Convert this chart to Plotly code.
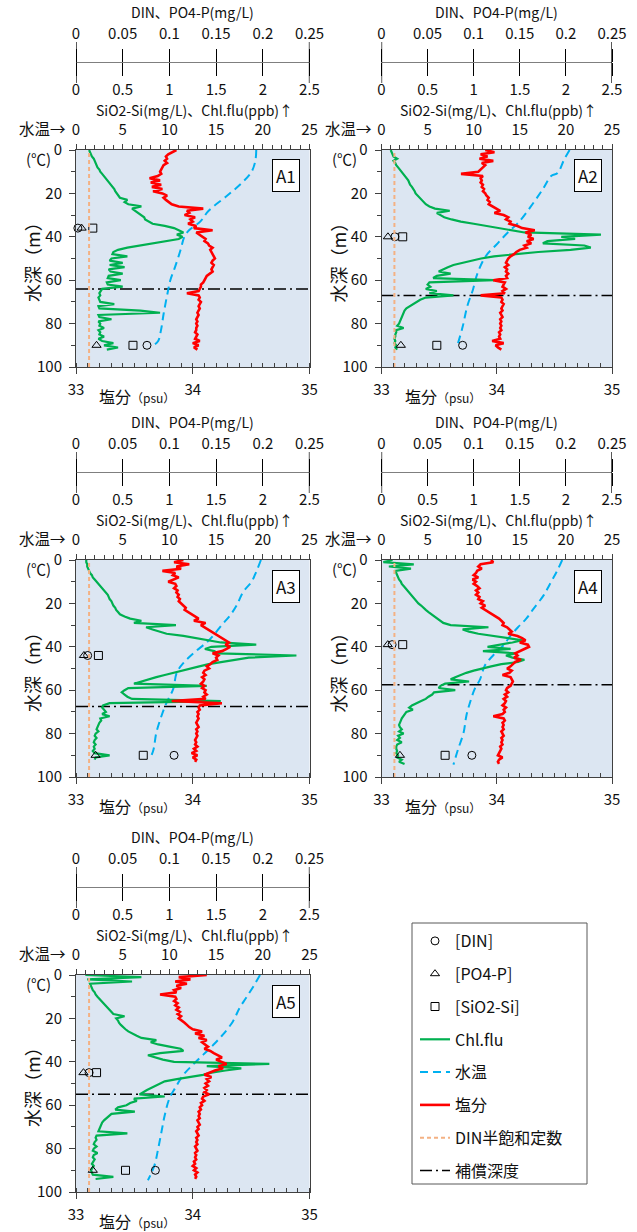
import plotly.graph_objects as go

# ---------------- data ----------------
DEPTH_1M = [0, 1, 2, 3, 4, 5, 6, 7, 8, 9, 10, 11, 12, 13, 14, 15, 16, 17, 18, 19,
            20, 21, 22, 23, 24, 25, 26, 27, 28, 29, 30, 31, 32, 33, 34, 35, 36, 37, 38, 39,
            40, 41, 42, 43, 44, 45, 46, 47, 48, 49, 50, 51, 52, 53, 54, 55, 56, 57, 58, 59,
            60, 61, 62, 63, 64, 65, 66, 67, 68, 69, 70, 71, 72, 73, 74, 75, 76, 77, 78, 79,
            80, 81, 82, 83, 84, 85, 86, 87, 88, 89, 90, 91, 92, 93, 94, 95]

PANELS = ["A1", "A2", "A3", "A4", "A5"]

# salinity (psu), 1 m steps
SAL_A1 = [33.86, 33.82, 33.79, 33.77, 33.78, 33.76, 33.78, 33.75, 33.74, 33.73,
          33.72, 33.73, 33.70, 33.63, 33.72, 33.64, 33.73, 33.65, 33.74, 33.66,
          33.74, 33.78, 33.75, 33.77, 33.80, 33.82, 33.88, 34.09, 33.95, 33.97,
          33.93, 34.02, 33.98, 34.00, 33.96, 34.03, 34.01, 34.17, 34.03, 34.06,
          34.08, 34.11, 34.10, 34.13, 34.14, 34.17, 34.15, 34.16, 34.17, 34.18,
          34.19, 34.17, 34.16, 34.18, 34.17, 34.16, 34.17, 34.14, 34.12, 34.11,
          34.10, 34.09, 34.07, 34.07, 34.06, 34.05, 33.95, 34.05, 34.06, 34.05,
          34.07, 34.06, 34.05, 34.06, 34.05, 34.04, 34.05, 34.04, 34.03, 34.04,
          34.03, 34.04, 34.03, 34.03, 34.02, 34.04, 34.03, 34.02, 34.06, 34.00,
          34.05, 34.01, 34.04]
SAL_A2 = [33.90, 33.98, 33.86, 33.92, 33.85, 33.97, 33.87, 33.90, 33.88, 33.86,
          33.84, 33.69, 33.88, 33.86, 33.87, 33.86, 33.88, 33.87, 33.89, 33.88,
          33.90, 33.91, 33.93, 33.92, 33.94, 33.93, 33.96, 34.00, 34.03, 33.98,
          34.06, 34.10, 34.08, 34.12, 34.11, 34.18, 34.22, 34.33, 34.25, 34.30,
          34.27, 34.32, 34.26, 34.30, 34.24, 34.26, 34.20, 34.17, 34.15, 34.12,
          34.10, 34.09, 34.08, 34.10, 34.07, 34.09, 34.08, 34.10, 34.08, 34.09,
          33.97, 34.07, 34.06, 34.05, 34.08, 34.05, 34.07, 33.86, 34.04, 34.05,
          34.04, 34.06, 34.05, 34.04, 34.05, 34.03, 34.04, 34.05, 34.03, 34.04,
          34.03, 34.04, 34.03, 34.04, 34.02, 34.03, 34.02, 34.03, 33.96, 34.06,
          33.99, 34.01, 34.04]
SAL_A3 = [33.92, 33.84, 33.97, 33.86, 33.90, 33.74, 33.85, 33.83, 33.88, 33.84,
          33.79, 33.85, 33.86, 33.84, 33.87, 33.86, 33.88, 33.87, 33.89, 33.88,
          33.90, 33.92, 33.94, 33.93, 33.96, 33.99, 34.02, 34.05, 34.01, 34.11,
          34.07, 34.10, 34.13, 34.16, 34.18, 34.21, 34.24, 34.27, 34.31, 34.28,
          34.32, 34.29, 34.25, 34.17, 34.22, 34.20, 34.21, 34.17, 34.15, 34.12,
          34.14, 34.10, 34.09, 34.11, 34.08, 34.10, 34.09, 34.07, 34.10, 34.08,
          34.11, 34.10, 34.12, 34.09, 34.11, 33.82, 34.25, 34.06, 34.05, 34.06,
          34.04, 34.05, 34.04, 34.05, 34.04, 34.03, 34.04, 34.05, 34.03, 34.04,
          34.03, 34.04, 34.03, 34.02, 34.03, 34.02, 34.04, 34.01, 34.03, 33.99,
          34.04, 34.00, 34.03, 34.02]
SAL_A4 = [33.95, 33.97, 33.86, 33.84, 33.87, 33.83, 33.82, 33.80, 33.84, 33.79,
          33.82, 33.80, 33.83, 33.85, 33.82, 33.84, 33.82, 33.85, 33.84, 33.88,
          33.86, 33.90, 33.87, 33.90, 33.94, 33.97, 33.99, 34.02, 34.04, 34.06,
          34.05, 34.09, 34.11, 34.13, 34.10, 34.18, 34.22, 34.25, 34.20, 34.27,
          34.28, 34.24, 34.20, 34.16, 34.18, 34.15, 34.21, 34.16, 34.14, 34.12,
          34.09, 34.13, 34.11, 34.05, 34.12, 34.13, 34.14, 34.13, 34.12, 34.09,
          34.08, 34.10, 34.07, 34.09, 34.06, 34.08, 34.07, 34.05, 34.08, 34.06,
          34.07, 34.05, 33.97, 34.06, 34.07, 34.05, 34.06, 34.05, 34.06, 34.04,
          34.05, 34.06, 34.04, 34.05, 34.04, 34.05, 34.03, 34.04, 34.03, 34.02,
          34.01, 34.05, 34.02, 34.01, 34.02]
SAL_A5 = [34.12, 33.88, 33.98, 33.85, 33.95, 33.86, 33.90, 33.84, 33.86, 33.72,
          33.85, 33.86, 33.84, 33.87, 33.85, 33.88, 33.86, 33.89, 33.87, 33.90,
          33.88, 33.91, 33.93, 33.95, 33.97, 34.00, 34.08, 34.02, 34.10, 34.05,
          34.12, 34.08, 34.11, 34.13, 34.10, 34.15, 34.18, 34.22, 34.25, 34.20,
          34.24, 34.29, 34.22, 34.26, 34.19, 34.14, 34.10, 34.16, 34.12, 34.14,
          34.11, 34.13, 34.10, 34.12, 34.10, 34.14, 34.09, 34.08, 34.10, 34.07,
          34.08, 34.06, 34.07, 34.05, 34.06, 34.05, 34.06, 34.04, 34.05, 34.06,
          34.04, 34.05, 34.03, 34.04, 34.05, 34.03, 34.04, 34.03, 34.04, 34.02,
          34.03, 34.04, 34.02, 34.03, 34.02, 34.03, 34.01, 34.02, 34.00, 34.03,
          34.01, 34.04, 34.02, 34.03, 34.02]

# chlorophyll fluorescence (ppb), 1 m steps
CHL_A1 = [0.14, 0.15, 0.16, 0.17, 0.19, 0.20, 0.21, 0.22, 0.23, 0.25,
          0.26, 0.28, 0.30, 0.31, 0.33, 0.36, 0.37, 0.39, 0.41, 0.42,
          0.44, 0.45, 0.47, 0.55, 0.52, 0.56, 0.70, 0.60, 0.63, 0.66,
          0.70, 0.73, 0.74, 0.78, 0.82, 0.95, 1.05, 1.10, 1.15, 1.08,
          1.14, 1.10, 0.95, 0.80, 0.66, 0.55, 0.45, 0.40, 0.39, 0.55,
          0.38, 0.36, 0.50, 0.36, 0.52, 0.35, 0.37, 0.50, 0.35, 0.34,
          0.48, 0.33, 0.34, 0.50, 0.28, 0.26, 0.25, 0.26, 0.24, 0.25,
          0.26, 0.41, 0.24, 0.25, 0.69, 0.90, 0.24, 0.25, 0.38, 0.24,
          0.26, 0.25, 0.30, 0.24, 0.26, 0.25, 0.30, 0.24, 0.28, 0.40,
          0.30, 0.45, 0.33]
CHL_A2 = [0.10, 0.11, 0.12, 0.13, 0.17, 0.13, 0.15, 0.16, 0.18, 0.20,
          0.22, 0.24, 0.25, 0.27, 0.29, 0.30, 0.31, 0.33, 0.35, 0.36,
          0.37, 0.39, 0.41, 0.43, 0.45, 0.48, 0.52, 0.58, 0.74, 0.60,
          0.64, 0.68, 0.76, 0.86, 1.00, 1.15, 1.28, 1.40, 1.55, 2.38,
          1.95, 2.10, 1.80, 1.75, 2.20, 2.27, 2.05, 1.70, 1.45, 1.22,
          1.08, 0.97, 0.86, 0.78, 0.72, 0.66, 0.62, 0.75, 0.60, 0.56,
          1.22, 0.52, 0.50, 0.53, 0.48, 0.60, 0.52, 0.78, 0.48, 0.42,
          0.38, 0.34, 0.30, 0.27, 0.25, 0.24, 0.23, 0.22, 0.21, 0.20,
          0.19, 0.17, 0.24, 0.16, 0.16, 0.15, 0.15, 0.14, 0.15, 0.14,
          0.16, 0.15, 0.17]
CHL_A3 = [0.11, 0.11, 0.12, 0.12, 0.13, 0.14, 0.15, 0.17, 0.18, 0.20,
          0.22, 0.24, 0.26, 0.29, 0.31, 0.32, 0.34, 0.35, 0.36, 0.38,
          0.39, 0.40, 0.42, 0.43, 0.45, 0.47, 0.52, 0.58, 0.70, 0.62,
          1.07, 0.75, 0.82, 0.90, 0.97, 1.15, 1.30, 1.43, 1.55, 1.93,
          1.45, 1.38, 1.48, 1.52, 2.36, 1.85, 1.70, 1.54, 1.42, 1.32,
          1.22, 1.15, 1.04, 0.95, 0.86, 0.78, 0.70, 0.62, 1.40, 0.56,
          0.52, 0.49, 0.52, 0.55, 0.60, 1.55, 0.36, 0.29, 0.28, 0.30,
          0.32, 0.28, 0.36, 0.26, 0.27, 0.25, 0.24, 0.23, 0.22, 0.24,
          0.21, 0.20, 0.22, 0.20, 0.19, 0.21, 0.19, 0.20, 0.18, 0.20,
          0.36, 0.21, 0.20]
CHL_A4 = [0.12, 0.02, 0.35, 0.08, 0.32, 0.15, 0.16, 0.17, 0.18, 0.19,
          0.21, 0.22, 0.24, 0.26, 0.27, 0.29, 0.31, 0.33, 0.35, 0.37,
          0.40, 0.43, 0.45, 0.48, 0.51, 0.54, 0.57, 0.60, 0.63, 0.67,
          0.75, 1.16, 0.88, 0.95, 1.05, 1.20, 1.35, 1.53, 1.42, 1.30,
          1.15, 1.40, 1.10, 1.45, 1.35, 1.42, 1.55, 1.48, 1.30, 1.19,
          1.08, 1.00, 0.92, 0.85, 0.80, 0.75, 0.95, 0.69, 0.64, 0.62,
          0.80, 0.57, 0.55, 0.51, 0.48, 0.43, 0.38, 0.33, 0.30, 0.34,
          0.27, 0.25, 0.23, 0.22, 0.21, 0.20, 0.19, 0.20, 0.22, 0.19,
          0.24, 0.18, 0.20, 0.17, 0.22, 0.17, 0.16, 0.16, 0.17, 0.16,
          0.18, 0.17, 0.22, 0.19, 0.25]
CHL_A5 = [0.10, 0.70, 0.12, 0.60, 0.15, 0.16, 0.17, 0.18, 0.20, 0.21,
          0.23, 0.25, 0.27, 0.29, 0.31, 0.33, 0.35, 0.37, 0.40, 0.52,
          0.43, 0.45, 0.46, 0.48, 0.50, 0.53, 0.56, 0.60, 0.65, 0.70,
          0.86, 0.80, 0.88, 1.00, 1.12, 1.15, 0.90, 0.77, 0.85, 0.93,
          1.05, 2.07, 1.40, 1.77, 1.60, 1.45, 1.36, 1.20, 1.08, 0.95,
          0.90, 0.85, 0.80, 0.76, 0.72, 0.68, 0.95, 0.62, 0.65, 0.58,
          0.54, 0.45, 0.42, 0.63, 0.38, 0.35, 0.33, 0.30, 0.28, 0.27,
          0.26, 0.25, 0.24, 0.55, 0.22, 0.21, 0.22, 0.20, 0.19, 0.22,
          0.19, 0.18, 0.23, 0.19, 0.18, 0.20, 0.18, 0.17, 0.19, 0.17,
          0.16, 0.17, 0.18, 0.40, 0.21]

# water temperature (deg C)
TEMP_DEPTH_A1 = [0, 5, 10, 15, 21, 28, 33, 37, 40, 46, 54, 60, 66, 75, 83, 88, 90]
TEMP_A1 = [19.3, 19.2, 18.8, 17.8, 16.2, 14.2, 13.3, 12.1, 11.6, 11.2, 10.6, 10.1, 9.8, 9.4, 9.1, 8.8, 8.3]
TEMP_DEPTH_A2 = [0, 4.5, 10.6, 12, 18, 26, 33.7, 38, 43, 49, 57, 64.6, 72, 81.5, 89]
TEMP_A2 = [20.4, 19.8, 19.1, 18.4, 17.5, 16.2, 14.8, 13.7, 12.6, 11.3, 10.4, 9.9, 9.3, 8.8, 8.3]
TEMP_DEPTH_A3 = [0, 5.4, 10, 14.7, 20.9, 25.5, 30, 34.8, 37.9, 42.5, 47, 51.8, 59.5, 65.7, 71.9, 79.6, 87.3, 92]
TEMP_A3 = [19.8, 19.3, 18.8, 17.9, 17.2, 16.5, 15.6, 14.7, 14.0, 12.7, 11.6, 10.8, 10.4, 9.7, 9.15, 8.6, 8.3, 7.9]
TEMP_DEPTH_A4 = [0, 5.4, 11.6, 16.2, 22.4, 27, 31, 34.8, 39.4, 44, 48.7, 54.9, 59.5, 65.7, 71.9, 79.6, 87.3, 94.3]
TEMP_A4 = [19.6, 19.0, 18.2, 17.6, 16.5, 15.7, 14.8, 14.0, 13.2, 12.1, 11.2, 10.7, 10.1, 9.6, 9.2, 8.9, 8.3, 7.8]
TEMP_DEPTH_A5 = [0, 4.5, 10.6, 15.3, 21.4, 27.6, 32.2, 36.8, 41.4, 46, 52.2, 56.9, 64.6, 72.3, 80, 87.7, 94.6]
TEMP_A5 = [19.7, 19.1, 18.2, 17.5, 16.8, 15.7, 14.7, 13.6, 12.5, 11.5, 10.6, 10.0, 9.5, 9.15, 8.8, 8.4, 7.7]

# bottle samples
NUT_DEPTH = {"A1": [36, 90], "A2": [40, 90], "A3": [44, 90], "A4": [39, 90], "A5": [45, 90]}
DIN = {"A1": [0.002, 0.076], "A2": [0.0145, 0.088], "A3": [0.0125, 0.105], "A4": [0.0115, 0.098], "A5": [0.014, 0.085]}
PO4 = {"A1": [0.006, 0.022], "A2": [0.007, 0.021], "A3": [0.0085, 0.021], "A4": [0.0068, 0.020], "A5": [0.008, 0.018]}
SIO2 = {"A1": [0.18, 0.61], "A2": [0.23, 0.60], "A3": [0.24, 0.72], "A4": [0.23, 0.69], "A5": [0.22, 0.53]}

COMP_DEPTH = [64, 67, 67.5, 57.5, 55]
DIN_HALF_SAT = 0.014

SAL_RANGE = [33, 35]
TEMP_RANGE = [0, 25]
NUT_RANGE = [0, 0.25]
SI_RANGE = [0, 2.5]
DEPTH_RANGE = [100, 0]

SAL = {"A1": SAL_A1, "A2": SAL_A2, "A3": SAL_A3, "A4": SAL_A4, "A5": SAL_A5}
CHL = {"A1": CHL_A1, "A2": CHL_A2, "A3": CHL_A3, "A4": CHL_A4, "A5": CHL_A5}
TEMP = {"A1": (TEMP_DEPTH_A1, TEMP_A1), "A2": (TEMP_DEPTH_A2, TEMP_A2), "A3": (TEMP_DEPTH_A3, TEMP_A3),
        "A4": (TEMP_DEPTH_A4, TEMP_A4), "A5": (TEMP_DEPTH_A5, TEMP_A5)}

# ---------------- layout geometry (pixels) ----------------
W, H = 637, 1232
COLS = [(76, 309.5), (381.5, 612)]
ROWS = [150, 560, 975]
BOX_H = 217
LEGEND_BOX = (412, 587, 923, 1184)
FONT = "Noto Sans CJK JP, Noto Sans, sans-serif"
TXT = "#111111"
AX = "#404040"
TF = dict(family=FONT, size=15, color=TXT)
TITLE_F = dict(family=FONT, size=14, color=TXT)


def px(v):
    return v / W


def py(v):
    return 1 - v / H


C_CHL = "#00b050"
C_TEMP = "#00b0f0"
C_SAL = "#ff0000"
C_HALF = "#f4b183"

fig = go.Figure()
layout_axes = {}
annotations = []
shapes = []

for i, name in enumerate(PANELS):
    n = i + 1
    left, right = COLS[i % 2]
    top = ROWS[i // 2]
    bottom = top + BOX_H
    b = 5 * i + 1
    ids = {"sal": b, "temp": b + 1, "si": b + 2, "din": b + 3, "sal2": b + 4}
    xr = {k: ("x" if v == 1 else f"x{v}") for k, v in ids.items()}
    xl = {k: ("xaxis" if v == 1 else f"xaxis{v}") for k, v in ids.items()}
    yr = "y" if n == 1 else f"y{n}"
    yl = "yaxis" if n == 1 else f"yaxis{n}"
    axis_pos = py(top - 88)
    show = (n == 1)

    layout_axes[xl["sal"]] = dict(
        domain=[px(left), px(right)], range=SAL_RANGE, anchor=yr, side="bottom",
        showline=True, linecolor=AX, linewidth=1, mirror=True,
        ticks="outside", ticklen=6, tickcolor=AX, tick0=33, dtick=1,
        tickfont=TF, ticklabelstandoff=3,
        minor=dict(ticks="inside", tick0=33, dtick=0.1, ticklen=4, tickcolor=AX),
        showgrid=False, zeroline=False, fixedrange=True, automargin=False)
    layout_axes[xl["temp"]] = dict(
        overlaying=xr["sal"], anchor=yr, side="top", range=TEMP_RANGE,
        tick0=0, dtick=5, ticks="outside", ticklen=5, tickcolor=AX,
        tickfont=TF, ticklabelstandoff=3, showline=False,
        minor=dict(ticks="outside", tick0=0, dtick=1, ticklen=4, tickcolor=AX),
        showgrid=False, zeroline=False, fixedrange=True, automargin=False)
    layout_axes[xl["din"]] = dict(
        overlaying=xr["sal"], anchor="free", position=axis_pos, side="top", range=NUT_RANGE,
        tick0=0, dtick=0.05, ticks="outside", ticklen=13, tickcolor="#000000",
        showline=True, linecolor="#7f7f7f", linewidth=1.3,
        tickfont=TF, ticklabelstandoff=4,
        showgrid=False, zeroline=False, fixedrange=True, automargin=False)
    layout_axes[xl["si"]] = dict(
        overlaying=xr["sal"], anchor="free", position=axis_pos, side="bottom", range=SI_RANGE,
        tick0=0, dtick=0.5, ticks="outside", ticklen=13, tickcolor="#000000",
        showline=True, linecolor="#7f7f7f", linewidth=1.3,
        tickfont=TF, ticklabelstandoff=1,
        showgrid=False, zeroline=False, fixedrange=True, automargin=False)
    layout_axes[xl["sal2"]] = dict(overlaying=xr["sal"], anchor=yr, range=SAL_RANGE,
                                   visible=False, fixedrange=True)
    layout_axes[yl] = dict(
        domain=[py(bottom), py(top)], range=DEPTH_RANGE, anchor=xr["sal"],
        showline=True, linecolor=AX, linewidth=1, mirror=True,
        ticks="outside", ticklen=6, tickcolor=AX, tick0=0, dtick=20,
        tickfont=TF, ticklabelstandoff=4,
        minor=dict(ticks="outside", tick0=0, dtick=10, ticklen=4, tickcolor=AX),
        showgrid=False, zeroline=False, fixedrange=True, automargin=False)

    nd = NUT_DEPTH[name]
    # legend order: DIN, PO4, SiO2, Chl, temp, sal, half-sat, comp depth
    fig.add_trace(go.Scatter(
        x=DIN[name], y=nd, xaxis=xr["din"], yaxis=yr, mode="markers", name="[DIN]",
        legendgroup="din", showlegend=show, cliponaxis=False,
        marker=dict(symbol="circle-open", size=8, color="#000000", line=dict(width=1))))
    fig.add_trace(go.Scatter(
        x=PO4[name], y=nd, xaxis=xr["din"], yaxis=yr, mode="markers", name="[PO4-P]",
        legendgroup="po4", showlegend=show, cliponaxis=False,
        marker=dict(symbol="triangle-up-open", size=8, color="#000000", line=dict(width=1))))
    fig.add_trace(go.Scatter(
        x=SIO2[name], y=nd, xaxis=xr["si"], yaxis=yr, mode="markers", name="[SiO2-Si]",
        legendgroup="si", showlegend=show, cliponaxis=False,
        marker=dict(symbol="square-open", size=8, color="#000000", line=dict(width=1))))
    chl = CHL[name]
    fig.add_trace(go.Scatter(
        x=chl, y=DEPTH_1M[:len(chl)], xaxis=xr["si"], yaxis=yr, mode="lines", name="Chl.flu",
        legendgroup="chl", showlegend=show, line=dict(color=C_CHL, width=2.2)))
    td, tv = TEMP[name]
    fig.add_trace(go.Scatter(
        x=tv, y=td, xaxis=xr["temp"], yaxis=yr, mode="lines", name="水温",
        legendgroup="temp", showlegend=show,
        line=dict(color=C_TEMP, width=2, dash="8px,5px", shape="spline")))
    sal = SAL[name]
    fig.add_trace(go.Scatter(
        x=sal, y=DEPTH_1M[:len(sal)], xaxis=xr["sal2"], yaxis=yr, mode="lines", name="塩分",
        legendgroup="sal", showlegend=show, line=dict(color=C_SAL, width=2.6)))
    fig.add_trace(go.Scatter(
        x=[DIN_HALF_SAT, DIN_HALF_SAT], y=[DEPTH_RANGE[0], DEPTH_RANGE[1]],
        xaxis=xr["din"], yaxis=yr, mode="lines", name="DIN半飽和定数",
        legendgroup="half", showlegend=show, line=dict(color=C_HALF, width=2, dash="4px,3px")))
    fig.add_trace(go.Scatter(
        x=SAL_RANGE, y=[COMP_DEPTH[i], COMP_DEPTH[i]], xaxis=xr["sal"], yaxis=yr,
        mode="lines", name="補償深度", legendgroup="comp", showlegend=show,
        line=dict(color="#000000", width=1.5, dash="12px,4px,2px,4px")))

    # long end ticks of the nutrient axis
    for xv in NUT_RANGE:
        shapes.append(dict(type="line", xref=xr["din"], yref="paper", x0=xv, x1=xv,
                           y0=py(top - 88 + 21), y1=py(top - 88 - 20),
                           line=dict(color="#000000", width=1.3)))

    cx = (left + right) / 2
    annotations += [
        dict(x=px(cx), y=py(top - 138), text="DIN、PO4-P(mg/L)", showarrow=False,
             xref="paper", yref="paper", xanchor="center", yanchor="middle", font=TITLE_F),
        dict(x=px(cx + 2), y=py(top - 40), text="SiO2-Si(mg/L)、Chl.flu(ppb)↑", showarrow=False,
             xref="paper", yref="paper", xanchor="center", yanchor="middle", font=TITLE_F),
        dict(x=px(left - 8), y=py(top - 22), text="水温→", showarrow=False,
             xref="paper", yref="paper", xanchor="right", yanchor="middle",
             font=dict(family=FONT, size=15.5, color=TXT)),
        dict(x=px(left - 23), y=py(top + 8), text="(℃)", showarrow=False,
             xref="paper", yref="paper", xanchor="right", yanchor="middle", font=TF),
        dict(x=px(left - 44), y=py(top + 108), text="水深（m）", showarrow=False, textangle=-90,
             xref="paper", yref="paper", xanchor="center", yanchor="middle",
             font=dict(family=FONT, size=18, color=TXT)),
        dict(x=px(left + 61), y=py(bottom + 29),
             text="塩分<span style='font-size:12px'>（psu）</span>", showarrow=False,
             xref="paper", yref="paper", xanchor="center", yanchor="middle",
             font=dict(family=FONT, size=16, color=TXT)),
        dict(x=px(right - 24), y=py(top + 26), text=name, showarrow=False,
             xref="paper", yref="paper", xanchor="center", yanchor="middle",
             bgcolor="#ffffff", bordercolor="#000000", borderwidth=1, borderpad=3,
             font=dict(family=FONT, size=17, color=TXT)),
    ]

# legend frame
lx0, lx1, ly0, ly1 = LEGEND_BOX
shapes.append(dict(type="rect", xref="paper", yref="paper", layer="below",
                   x0=px(lx0), x1=px(lx1), y0=py(ly1), y1=py(ly0),
                   line=dict(color="#595959", width=1), fillcolor="#ffffff"))

fig.update_layout(
    width=W, height=H, autosize=False,
    margin=dict(l=0, r=0, t=0, b=0, pad=0, autoexpand=False),
    paper_bgcolor="#ffffff", plot_bgcolor="#dce6f2",
    font=dict(family=FONT, size=15, color=TXT),
    hovermode=False,
    annotations=annotations, shapes=shapes,
    legend=dict(x=px(lx0 + 3), y=py(ly0 + 1), xanchor="left", yanchor="top",
                borderwidth=0, bgcolor="rgba(0,0,0,0)",
                font=dict(family=FONT, size=16, color=TXT),
                tracegroupgap=9, itemwidth=30),
    **layout_axes,
)

fig.write_html(
    "out.html",
    config={"displayModeBar": False, "staticPlot": True},
    post_script="document.body.style.margin='0';document.body.style.padding='0';"
                "document.documentElement.style.overflow='hidden';",
)
